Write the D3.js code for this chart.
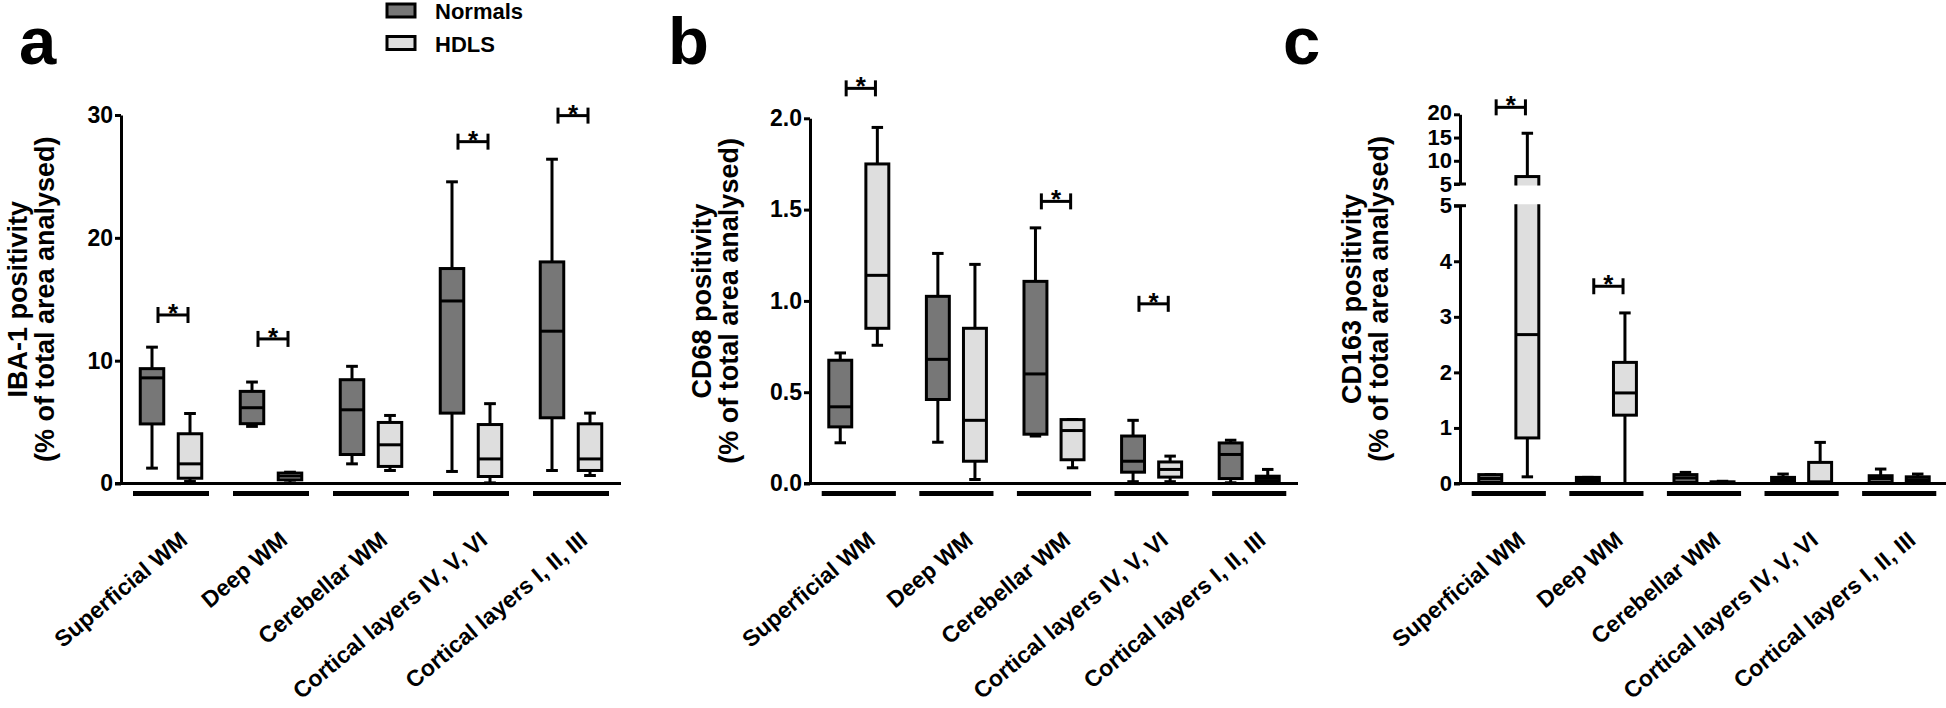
<!DOCTYPE html>
<html><head><meta charset="utf-8">
<script src="https://cdn.jsdelivr.net/npm/d3@7"></script>
<style>
body{margin:0;background:#fff}
svg{display:block}
text{font-family:"Liberation Sans",Arial,Helvetica,sans-serif;font-weight:bold;fill:#000}
</style>
</head><body>
<svg id="chart" width="1946" height="708"></svg>
<script>
// ---------------- DATA ----------------
const categories = ["Superficial WM","Deep WM","Cerebellar WM","Cortical layers IV, V, VI","Cortical layers I, II, III"];
const groups = ["Normals","HDLS"];
const groupColors = ["#777777","#dedede"];

// each entry: [min, q1, median, q3, max]
const iba1Normals = [[1.25,4.85,8.6,9.35,11.1],[4.65,4.87,6.17,7.5,8.26],[1.6,2.36,6.0,8.45,9.54],[0.98,5.73,14.86,17.5,24.56],[1.06,5.35,12.4,18.04,26.4]];
const iba1HDLS    = [[0.16,0.43,1.6,4.05,5.7],[0.05,0.3,0.6,0.85,0.92],[1.06,1.39,3.15,4.97,5.54],[0.05,0.57,2.0,4.8,6.5],[0.65,1.06,2.0,4.86,5.73]];
const cd68Normals = [[0.223,0.31,0.42,0.675,0.715],[0.226,0.46,0.68,1.025,1.26],[0.26,0.27,0.60,1.107,1.40],[0.01,0.062,0.122,0.26,0.346],[0.004,0.027,0.159,0.222,0.237]];
const cd68HDLS    = [[0.757,0.85,1.14,1.75,1.95],[0.022,0.122,0.346,0.85,1.2],[0.086,0.13,0.29,0.35,0.35],[0.01,0.035,0.077,0.118,0.15],[0.003,0.016,0.03,0.04,0.077]];
const cd163Normals = [[0.01,0.02,0.09,0.16,0.16],[0.01,0.02,0.07,0.11,0.11],[0.01,0.02,0.1,0.16,0.2],[0.01,0.02,0.07,0.11,0.17],[0.01,0.02,0.09,0.14,0.26]];
const cd163HDLS    = [[0.12,0.82,2.68,6.6,15.9],[0.0,1.23,1.63,2.18,3.07],[0.0,0.01,0.02,0.03,0.04],[0.0,0.01,0.03,0.38,0.74],[0.01,0.02,0.07,0.12,0.17]];

// significance brackets: category index and value level
const iba1Sig  = [{cat:0,level:13.72},{cat:1,level:11.77},{cat:3,level:27.83},{cat:4,level:29.95}];
const cd68Sig  = [{cat:0,level:2.164},{cat:2,level:1.545},{cat:3,level:0.984}];
const cd163Sig = [{cat:0,level:21.5},{cat:1,level:3.55}];

const iba1Ticks = [0,10,20,30];
const cd68Ticks = [0,0.5,1.0,1.5,2.0];
const cd163LowTicks = [0,1,2,3,4,5];
const cd163HighTicks = [5,10,15,20];

const iba1Title = ["IBA-1 positivity","(% of total area analysed)"];
const cd68Title = ["CD68 positivity","(% of total area analysed)"];
const cd163Title = ["CD163 positivity","(% of total area analysed)"];

// ---------------- LAYOUT ----------------
const svg = d3.select("#chart");
const Y0 = 483.5;
const panels = [
  {letter:"a", lx:19, x0:121, x1:621, axisEnd:621, title:iba1Title, titleOff:[-94,-67], tickFont:23,
   data:[iba1Normals,iba1HDLS], sig:iba1Sig,
   segs:[{domain:[0,30], range:[Y0,115], ticks:iba1Ticks, fmt:d3.format("d"), clip:[0,708]}]},
  {letter:"b", lx:668, x0:810, x1:1298, axisEnd:1298, title:cd68Title, titleOff:[-99,-72], tickFont:23,
   data:[cd68Normals,cd68HDLS], sig:cd68Sig,
   segs:[{domain:[0,2], range:[Y0,118.3], ticks:cd68Ticks, fmt:d3.format(".1f"), clip:[0,708]}]},
  {letter:"c", lx:1283, x0:1460, x1:1948, axisEnd:1946, title:cd163Title, titleOff:[-99,-72], tickFont:22,
   data:[cd163Normals,cd163HDLS], sig:cd163Sig, broken:true,
   segs:[{domain:[0,5], range:[Y0,205.7], ticks:cd163LowTicks, fmt:d3.format("d"), clip:[204.2,708], edgeShift:[0,2]},
         {domain:[5,20], range:[184,114.3], ticks:cd163HighTicks, fmt:d3.format("d"), clip:[0,185.5], edgeShift:[-2,0]}]}
];

const defs = svg.append("defs");

panels.forEach((p, pi) => {
  const g = svg.append("g");
  const x = d3.scaleBand().domain(categories).range([p.x0, p.x1]);
  const step = x.step();
  const cx = c => x(c) + step / 2;
  const boxW = step * 0.235;
  const off = step * 0.19;
  p.segs.forEach(s => { s.y = d3.scaleLinear().domain(s.domain).range(s.range); });
  const yv = v => (p.segs.length > 1 && v > p.segs[0].domain[1]) ? p.segs[1].y(v) : p.segs[0].y(v);

  // panel letter
  g.append("text").attr("x", p.lx).attr("y", 64).attr("font-size", 67).text(p.letter);

  // y axis segments
  p.segs.forEach(s => {
    const ax = g.append("g").attr("transform", `translate(${p.x0},0)`)
      .call(d3.axisLeft(s.y).tickValues(s.ticks).tickFormat(s.fmt).tickSize(6).tickSizeOuter(0).tickPadding(2));
    ax.select(".domain").attr("stroke", "#000").attr("stroke-width", 3);
    ax.selectAll(".tick line").attr("stroke", "#000").attr("stroke-width", 3);
    ax.selectAll(".tick text").attr("font-size", p.tickFont).attr("font-family", null).attr("fill", "#000");
    ax.attr("font-family", null).attr("font-size", null);
    if (s.edgeShift) {
      ax.selectAll(".tick text").filter(d => d === s.domain[1]).attr("transform", `translate(0,${s.edgeShift[0]})`);
      ax.selectAll(".tick text").filter(d => d === s.domain[0] && d !== 0).attr("transform", `translate(0,${s.edgeShift[1]})`);
    }
  });
  if (p.broken) {
    [p.segs[0].y(p.segs[0].domain[1]), p.segs[1].y(p.segs[1].domain[0])].forEach(yy => {
      g.append("line").attr("x1", p.x0 - 6).attr("x2", p.x0 + 6).attr("y1", yy).attr("y2", yy)
        .attr("stroke", "#000").attr("stroke-width", 3);
    });
  }

  // y title
  p.title.forEach((t, i) => {
    const mid = (p.segs[0].range[0] + p.segs[p.segs.length - 1].range[1]) / 2;
    g.append("text").attr("transform", `translate(${p.x0 + p.titleOff[i]},${mid}) rotate(-90)`)
      .attr("text-anchor", "middle").attr("font-size", 27).text(t);
  });

  // x axis line
  g.append("line").attr("x1", p.x0 - 6).attr("x2", p.axisEnd).attr("y1", Y0).attr("y2", Y0)
    .attr("stroke", "#000").attr("stroke-width", 3);

  // category bars
  g.selectAll(".catbar").data(categories).join("line")
    .attr("x1", c => x(c) + step * 0.12).attr("x2", c => x(c) + step * 0.88)
    .attr("y1", Y0 + 10).attr("y2", Y0 + 10).attr("stroke", "#000").attr("stroke-width", 5);

  // category labels
  g.selectAll(".catlab").data(categories).join("text")
    .attr("transform", c => `translate(${cx(c) + 18},${Y0 + 59}) rotate(-40)`)
    .attr("text-anchor", "end").attr("font-size", 23).text(c => c);

  // boxes, per segment with clipping
  p.segs.forEach((s, si) => {
    const id = `clip${pi}_${si}`;
    defs.append("clipPath").attr("id", id).append("rect")
      .attr("x", p.x0 - 2).attr("y", s.clip[0]).attr("width", p.x1 - p.x0 + 10).attr("height", s.clip[1] - s.clip[0]);
    const bg = g.append("g").attr("clip-path", `url(#${id})`);
    const y = s.y;
    p.data.forEach((series, gi) => {
      const items = categories.map((c, i) => ({c, v: series[i]}));
      const xc = d => cx(d.c) + (gi === 0 ? -off : off);
      const sel = bg.append("g").selectAll("g").data(items).join("g");
      sel.append("line").attr("x1", xc).attr("x2", xc).attr("y1", d => y(d.v[3])).attr("y2", d => y(d.v[4]))
        .attr("stroke", "#000").attr("stroke-width", 3);
      sel.append("line").attr("x1", xc).attr("x2", xc).attr("y1", d => y(d.v[1])).attr("y2", d => y(d.v[0]))
        .attr("stroke", "#000").attr("stroke-width", 3);
      [0, 4].forEach(k => {
        sel.append("line").attr("x1", d => xc(d) - boxW / 4).attr("x2", d => xc(d) + boxW / 4)
          .attr("y1", d => y(d.v[k])).attr("y2", d => y(d.v[k]))
          .attr("stroke", "#000").attr("stroke-width", 3);
      });
      sel.append("rect").attr("x", d => xc(d) - boxW / 2).attr("width", boxW)
        .attr("y", d => y(d.v[3])).attr("height", d => Math.max(0.5, y(d.v[1]) - y(d.v[3])))
        .attr("fill", groupColors[gi]).attr("stroke", "#000").attr("stroke-width", 3);
      sel.append("line").attr("x1", d => xc(d) - boxW / 2).attr("x2", d => xc(d) + boxW / 2)
        .attr("y1", d => y(d.v[2])).attr("y2", d => y(d.v[2]))
        .attr("stroke", "#000").attr("stroke-width", 3);
    });
  });

  // significance brackets
  const half = step * 0.15;
  const sg = g.selectAll(".sig").data(p.sig).join("g");
  sg.append("line").attr("x1", d => cx(categories[d.cat]) + 2 - half).attr("x2", d => cx(categories[d.cat]) + 2 + half)
    .attr("y1", d => yv(d.level)).attr("y2", d => yv(d.level)).attr("stroke", "#000").attr("stroke-width", 3);
  [-1, 1].forEach(sgn => {
    sg.append("line").attr("x1", d => cx(categories[d.cat]) + 2 + sgn * half).attr("x2", d => cx(categories[d.cat]) + 2 + sgn * half)
      .attr("y1", d => yv(d.level) - 8).attr("y2", d => yv(d.level) + 8).attr("stroke", "#000").attr("stroke-width", 3);
  });
  sg.append("text").attr("x", d => cx(categories[d.cat]) + 2).attr("y", d => yv(d.level) + 7)
    .attr("text-anchor", "middle").attr("font-size", 26).text("*");
});

// legend
const leg = svg.append("g").selectAll("g").data(groups).join("g")
  .attr("transform", (d, i) => `translate(387,${4 + i * 32.5})`);
leg.append("rect").attr("width", 28).attr("height", 13).attr("fill", (d, i) => groupColors[i])
  .attr("stroke", "#000").attr("stroke-width", 3);
leg.append("text").attr("x", 48).attr("y", 15).attr("font-size", 22).text(d => d);
</script>
</body></html>
